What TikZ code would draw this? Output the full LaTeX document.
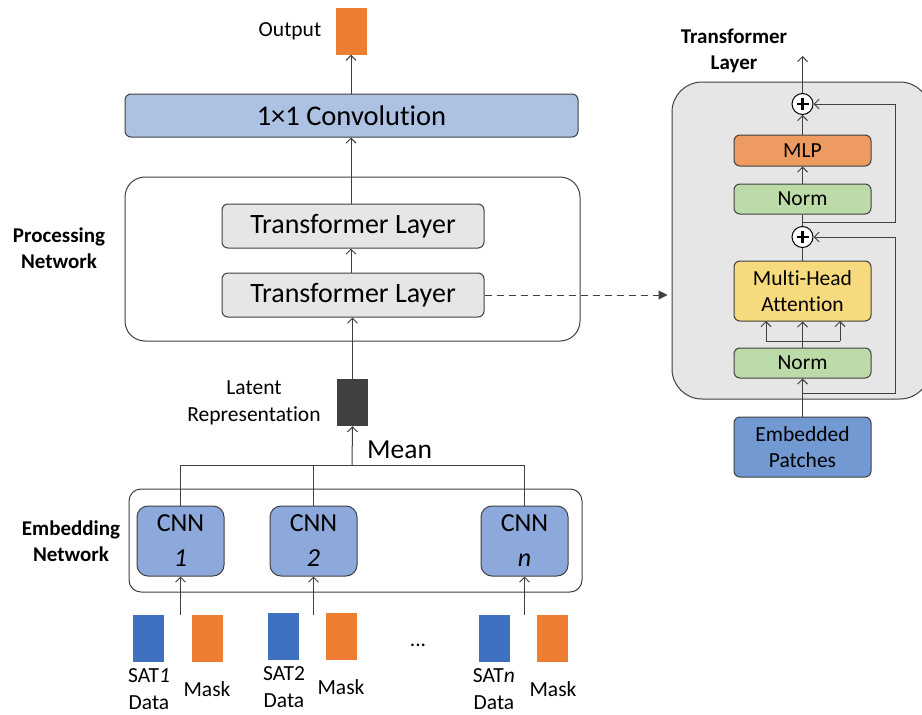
\documentclass[tikz,border=0pt]{standalone}
\usepackage{fontspec}
\setmainfont{Carlito}[Ligatures=NoCommon]
\usetikzlibrary{arrows.meta,calc}

\definecolor{edge}{HTML}{404040}
\definecolor{convblue}{HTML}{ADC2E3}
\definecolor{tlgray}{HTML}{E6E6E6}
\definecolor{cnnblue}{HTML}{8DA9DB}
\definecolor{embblue}{HTML}{7399D2}
\definecolor{satblue}{HTML}{4070C0}
\definecolor{maskorange}{HTML}{ED7D31}
\definecolor{mlporange}{HTML}{EE9B61}
\definecolor{normgreen}{HTML}{BDDBA8}
\definecolor{attyellow}{HTML}{F7D97E}
\definecolor{latentgray}{HTML}{404040}

\newcommand\px[2]{\fontsize{#1}{#2}\selectfont}

\tikzset{
  ln/.style={draw=edge, line width=1pt},
  arr/.style={ln, -{Straight Barb[length=5pt,width=10pt]}},
  box/.style={draw=edge, line width=1pt, rounded corners=6pt, inner sep=0pt, align=center},
  tens/.style={inner sep=0pt, minimum width=31pt, minimum height=47pt},
  lbl/.style={inner sep=0pt, align=center, font=\px{21.5}{27}},
  blbl/.style={inner sep=0pt, align=center, font=\bfseries\px{21}{26}},
  cnn/.style={box, rounded corners=11pt, fill=cnnblue, minimum width=87pt, minimum height=70pt, font=\px{26}{35}},
  tl/.style={box, fill=tlgray, minimum width=262pt, minimum height=44pt, font=\px{28}{30}},
  sub/.style={box, minimum width=137pt, font=\px{21.5}{26}},
  plus/.style={circle, draw=black, line width=1pt, fill=white, minimum size=21pt, inner sep=0pt,
    path picture={\draw[line width=2.2pt] (path picture bounding box.center) +(-6,0) -- +(6,0)
      (path picture bounding box.center) +(0,-6) -- +(0,6);}},
}

\begin{document}
\begin{tikzpicture}[x=1pt, y=-1pt]
\useasboundingbox (0,0) rectangle (922,715);
\fill[white] (0,0) rectangle (922,715);

% ---------------- main column ----------------
\node[tens, fill=maskorange] (out) at (351,31) {};
\node[lbl] (outlbl) at (290,31) {Output};

\node[box, fill=convblue, minimum width=453pt, minimum height=43pt, font=\px{28.5}{30}] (conv) at (351.5,115.5) {1×1 Convolution};

\node[draw=edge, line width=1pt, rounded corners=20pt, minimum width=455pt, minimum height=164pt, inner sep=0pt] (proc) at (352.5,259) {};
\node[tl] (tla) at (353,226) {Transformer Layer};
\node[tl] (tlb) at (353,295) {Transformer Layer};
\node[blbl] (proclbl) at (59,248) {Processing\\Network};

\node[tens, fill=latentgray] (lat) at (352.5,402.5) {};
\node[lbl] (latlbl) at (254,403) {Latent\\Representation};
\node[inner sep=0pt, anchor=west, font=\px{27.5}{30}] (mean) at (367,450) {Mean};

\draw[arr] (conv.north -| out) -- (out.south);
\draw[arr] (tla.north -| out) -- (conv.south -| out);
\draw[arr] (tlb.north -| out) -- (tla.south -| out);
\draw[arr] (lat.north) -- (tlb.south -| lat);

% ---------------- embedding network ----------------
\node[draw=edge, line width=1pt, rounded corners=12pt, minimum width=453pt, minimum height=103pt, inner sep=0pt] (emb) at (355.5,540.5) {};
\node[blbl] (emblbl) at (71,541) {Embedding\\Network};

\node[cnn] (c1) at (180.5,541) {CNN\\\textit{1}};
\node[cnn] (c2) at (313.5,541) {CNN\\\textit{2}};
\node[cnn] (cn) at (524.5,541) {CNN\\\textit{n}};

\coordinate (mj) at (352,465);
\draw[ln] (c1.north) -- (c1.north |- mj) -- (cn.north |- mj) -- (cn.north);
\draw[ln] (c2.north) -- (c2.north |- mj);
\draw[arr] (mj) -- (lat.south);

% inputs
\node[tens, fill=satblue] (s1) at (148,638) {};
\node[tens, fill=maskorange] (m1) at (207,638) {};
\node[tens, fill=satblue] (s2) at (283,636.5) {};
\node[tens, fill=maskorange] (m2) at (341,636.5) {};
\node[tens, fill=satblue] (sn) at (494,638.5) {};
\node[tens, fill=maskorange] (mn) at (552,638.5) {};

\coordinate (i1) at (180.5,615);
\coordinate (i2) at (313.5,615);
\coordinate (in) at (524.5,615);
\draw[arr] (i1) -- (c1.south);
\draw[arr] (i2) -- (c2.south);
\draw[arr] (in) -- (cn.south);

\node[lbl] (s1lbl) at (149,689) {SAT\textit{1}\\Data};
\node[lbl] (m1lbl) at (207,689) {Mask};
\node[lbl] (s2lbl) at (284,687) {SAT2\\Data};
\node[lbl] (m2lbl) at (341,687) {Mask};
\node[lbl] (snlbl) at (494,689) {SAT\textit{n}\\Data};
\node[lbl] (mnlbl) at (553,689) {Mask};
\node[lbl] (dots) at (418,645) {...};

% ---------------- transformer layer detail ----------------
\begin{scope}
\clip (0,0) rectangle (922,715);
\node[draw=edge, line width=1pt, rounded corners=30pt, fill=tlgray, minimum width=258pt, minimum height=317pt, inner sep=0pt] (panel) at (801,240.5) {};
\end{scope}
\node[blbl] (panellbl) at (734,51) {Transformer\\Layer};

\node[plus] (p1) at (802.5,104) {};
\node[sub, fill=mlporange, minimum height=31pt] (mlp) at (802.5,150.5) {MLP};
\node[sub, fill=normgreen, minimum height=30pt] (n1) at (802.5,199) {Norm};
\node[plus] (p2) at (802.5,237) {};
\node[sub, fill=attyellow, minimum height=60pt] (mha) at (802.5,291) {Multi-Head\\Attention};
\node[sub, fill=normgreen, minimum height=30pt] (n2) at (802.5,363) {Norm};
\node[sub, fill=embblue, minimum height=60pt] (ep) at (802.5,447) {Embedded\\Patches};

\coordinate (top) at (802.5,56);
\coordinate (r1) at (802.5,222);
\coordinate (r2) at (802.5,393);
\coordinate (br) at (802.5,341);
\coordinate (loopx) at (895,0);

\draw[arr] (p1.north) -- (top);
\draw[arr] (mlp.north -| p1) -- (p1.south);
\draw[arr] (n1.north -| p1) -- (mlp.south -| p1);
\draw[ln] (p2.north) -- (n1.south -| p2);
\draw[ln] (mha.north -| p2) -- (p2.south);
\draw[arr] (ep.north -| p2) -- (n2.south -| p2);
\draw[ln] (n2.north -| br) -- (br);
\draw[ln] (766,341) -- (840,341);
\draw[arr] (766,341) -- (766,321);
\draw[arr] (br) -- (mha.south -| br);
\draw[arr] (840,341) -- (840,321);

\draw[arr] (r1) -- (r1 -| loopx) -- (p1 -| loopx) -- (p1.east);
\draw[arr] (r2) -- (r2 -| loopx) -- (p2 -| loopx) -- (p2.east);

\draw[ln, dash pattern=on 7pt off 5pt, -{Triangle[length=9pt,width=9pt]}] (tlb.east) -- ([xshift=-4pt]panel.west |- tlb.east);
\end{tikzpicture}
\end{document}
